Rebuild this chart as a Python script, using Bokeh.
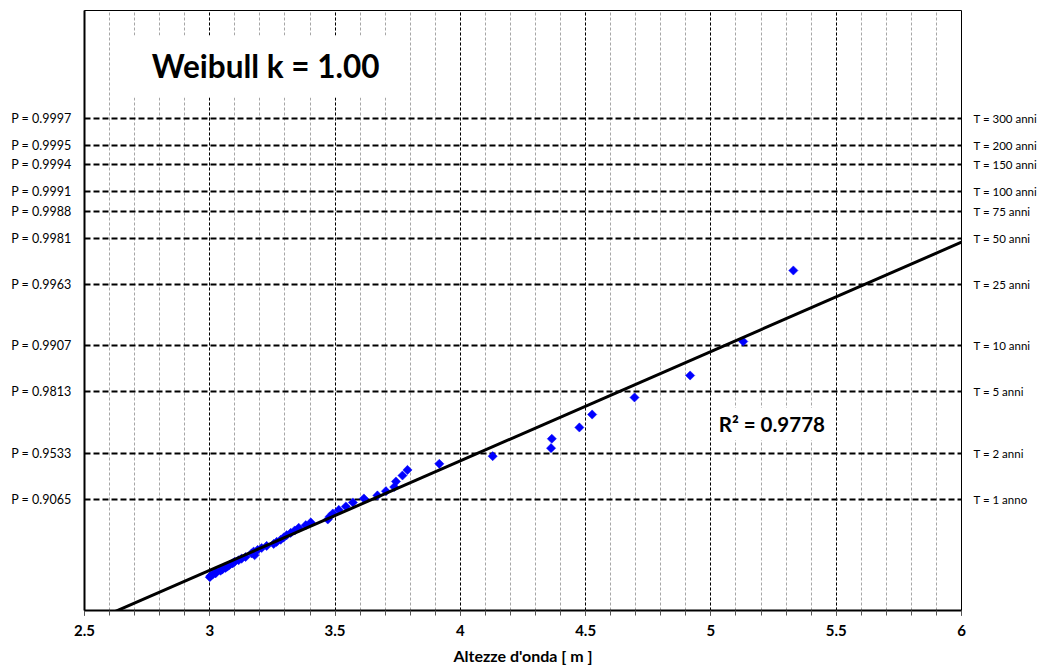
import numpy as np
from bokeh.plotting import figure
from bokeh.models import (Range1d, FixedTicker, SingleIntervalTicker, LinearAxis, Label,
                          CustomJSTickFormatter, NumeralTickFormatter, ColumnDataSource)
from bokeh.embed import file_html
from bokeh.resources import INLINE

# ---------------- data ----------------
wave_height = [5.329, 5.129, 4.917, 4.695, 4.526, 4.475, 4.365, 4.362, 4.129, 3.916,
               3.789, 3.769, 3.743, 3.736, 3.703, 3.669, 3.615, 3.571, 3.543, 3.515,
               3.491, 3.479, 3.471, 3.403, 3.383, 3.355, 3.339, 3.323, 3.307, 3.295,
               3.283, 3.267, 3.255, 3.227, 3.207, 3.191, 3.175, 3.167, 3.179, 3.143,
               3.127, 3.115, 3.099, 3.091, 3.079, 3.071, 3.063, 3.051, 3.043, 3.027,
               3.023, 3.011, 3.003, 3.000]
reduced_variate = [5.798, 4.735, 4.226, 3.897, 3.642, 3.448, 3.279, 3.138, 3.018, 2.904,
                   2.812, 2.729, 2.639, 2.557, 2.494, 2.430, 2.385, 2.325, 2.265, 2.213,
                   2.160, 2.115, 2.071, 2.026, 1.985, 1.946, 1.906, 1.870, 1.836, 1.801,
                   1.767, 1.735, 1.704, 1.674, 1.644, 1.615, 1.589, 1.562, 1.535, 1.509,
                   1.484, 1.460, 1.436, 1.413, 1.389, 1.368, 1.346, 1.325, 1.304, 1.285,
                   1.264, 1.246, 1.226, 1.207]

p_labels = ["0.9065", "0.9533", "0.9813", "0.9907", "0.9963", "0.9981",
            "0.9988", "0.9991", "0.9994", "0.9995", "0.9997"]
return_periods = [1, 2, 5, 10, 25, 50, 75, 100, 150, 200, 300]
t_labels = ["T = 1 anno", "T = 2 anni", "T = 5 anni", "T = 10 anni", "T = 25 anni",
            "T = 50 anni", "T = 75 anni", "T = 100 anni", "T = 150 anni",
            "T = 200 anni", "T = 300 anni"]
events_per_year = 10.7

fit_slope = 1.637
fit_intercept = -3.60
r2_text = "R\u00b2 = 0.9778"
title_text = "Weibull k = 1.00"
x_label = "Altezze d'onda [ m ]"

# ---------------- derived ----------------
levels = [float(np.log(events_per_year * T)) for T in return_periods]
p_texts = ["P = " + s for s in p_labels]

FONT = "Lato"

p = figure(width=1040, height=670,
           x_range=Range1d(2.5, 6.0), y_range=Range1d(0.708, 9.69),
           output_backend="svg", toolbar_location=None,
           min_border_left=84, min_border_right=79, min_border_top=10, min_border_bottom=60)
p.background_fill_color = "white"
p.border_fill_color = "white"
p.outline_line_color = "black"
p.outline_line_width = 1

# x axis
xa = p.xaxis[0]
xa.ticker = SingleIntervalTicker(interval=0.5, num_minor_ticks=5)
xa.formatter = NumeralTickFormatter(format="0.[0]")
xa.major_label_text_font = FONT
xa.major_label_text_font_style = "bold"
xa.major_label_text_font_size = "15px"
xa.major_label_text_color = "black"
xa.major_label_standoff = 9
xa.axis_label = x_label
xa.axis_label_text_font = FONT
xa.axis_label_text_font_style = "bold"
xa.axis_label_text_font_size = "16px"
xa.axis_label_text_color = "black"
xa.axis_label_standoff = 7
xa.axis_line_color = "black"
xa.axis_line_width = 2
xa.major_tick_in = 0
xa.major_tick_out = 5
xa.minor_tick_in = 0
xa.minor_tick_out = 5
xa.major_tick_line_color = "black"
xa.minor_tick_line_color = "#555555"

p.xgrid.grid_line_color = "black"
p.xgrid.grid_line_width = 1
p.xgrid.grid_line_dash = "3 2"
p.xgrid.minor_grid_line_color = "#a6a6a6"
p.xgrid.minor_grid_line_width = 1
p.xgrid.minor_grid_line_dash = "3 2"

# y axis (left: probabilities)
lev_ticker = FixedTicker(ticks=levels)
fmt_code = """
let best = 0;
for (let i = 0; i < refs.length; i++) {
  if (Math.abs(refs[i] - tick) < Math.abs(refs[best] - tick)) best = i;
}
return labels[best];
"""
ya = p.yaxis[0]
ya.ticker = lev_ticker
ya.formatter = CustomJSTickFormatter(args=dict(refs=levels, labels=p_texts), code=fmt_code)
ya.major_label_text_font = FONT
ya.major_label_text_font_size = "12.5px"
ya.major_label_text_color = "black"
ya.major_label_standoff = 13
ya.major_tick_in = 0
ya.major_tick_out = 0
ya.minor_tick_in = 0
ya.minor_tick_out = 0
ya.axis_line_color = "black"
ya.axis_line_width = 2

p.ygrid.ticker = lev_ticker
p.ygrid.grid_line_color = "black"
p.ygrid.grid_line_width = 2
p.ygrid.grid_line_dash = "6 3"

# right axis: return periods
ra = LinearAxis(ticker=FixedTicker(ticks=levels),
                formatter=CustomJSTickFormatter(args=dict(refs=levels, labels=t_labels), code=fmt_code))
ra.major_label_text_font = FONT
ra.major_label_text_font_size = "11.5px"
ra.major_label_text_color = "black"
ra.major_label_standoff = 12
ra.major_tick_in = 0
ra.major_tick_out = 0
ra.minor_tick_in = 0
ra.minor_tick_out = 0
ra.axis_line_color = None
p.add_layout(ra, "right")

# data points
src = ColumnDataSource(dict(x=wave_height, y=reduced_variate))
p.scatter("x", "y", source=src, marker="square", size=6.5, angle=np.pi / 4,
          fill_color="#0000FF", line_color="#0000FF", line_width=0.5)

# trend line
xs = [p.x_range.start, p.x_range.end]
ys = [fit_slope * v + fit_intercept for v in xs]
p.line(xs, ys, line_color="black", line_width=3)

# annotations
p.add_layout(Label(x=3.223, y=8.852, text=title_text, anchor="center",
                   text_align="center", text_baseline="middle",
                   text_font=FONT, text_font_style="bold", text_font_size="31.5px",
                   text_color="black", background_fill_color="white",
                   padding=dict(left=24, right=24, top=12, bottom=12)))
p.add_layout(Label(x=5.243, y=3.50, text=r2_text, anchor="center",
                   text_align="center", text_baseline="middle",
                   text_font=FONT, text_font_style="bold", text_font_size="20.5px",
                   text_color="black", background_fill_color="white",
                   padding=dict(left=6, right=6, top=4, bottom=4)))

open("out.html", "w").write(file_html(p, INLINE))
